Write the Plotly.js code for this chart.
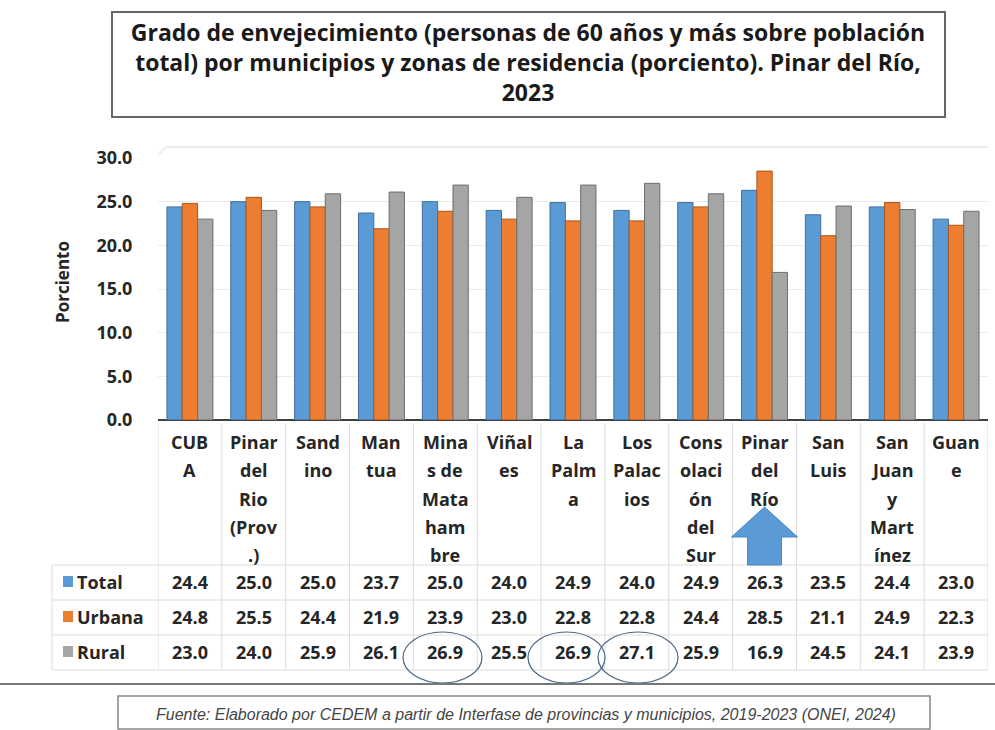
<!DOCTYPE html>
<html>
<head>
<meta charset="utf-8">
<script src="https://cdn.plot.ly/plotly-3.0.1.min.js"></script>
<style>html,body{margin:0;padding:0;background:#fff;}#chart{width:995px;height:730px;}</style>
</head>
<body>
<div id="chart"></div>
<script>
// ---- data ----
const categories = ["CUBA","Pinar del Rio (Prov.)","Sandino","Mantua","Minas de Matahambre","Viñales","La Palma","Los Palacios","Consolación del Sur","Pinar del Río","San Luis","San Juan y Martínez","Guane"];
const tickLabels = ["CUB<br>A","Pinar<br>del<br>Rio<br>(Prov<br>.)","Sand<br>ino","Man<br>tua","Mina<br>s de<br>Mata<br>ham<br>bre","Viñal<br>es","La<br>Palm<br>a","Los<br>Palac<br>ios","Cons<br>olaci<br>ón<br>del<br>Sur","Pinar<br>del<br>Río","San<br>Luis","San<br>Juan<br>y<br>Mart<br>ínez","Guan<br>e"];
const seriesNames = ["Total","Urbana","Rural"];
const total  = [24.4,25.0,25.0,23.7,25.0,24.0,24.9,24.0,24.9,26.3,23.5,24.4,23.0];
const urbana = [24.8,25.5,24.4,21.9,23.9,23.0,22.8,22.8,24.4,28.5,21.1,24.9,22.3];
const rural  = [23.0,24.0,25.9,26.1,26.9,25.5,26.9,27.1,25.9,16.9,24.5,24.1,23.9];
const yTicks = [0,5,10,15,20,25,30];
const titleText = "Grado de envejecimiento (personas de 60 años y más sobre población<br>total) por municipios y zonas de residencia (porciento). Pinar del Río,<br>2023";
const sourceText = "Fuente: Elaborado por CEDEM a partir de Interfase de provincias y municipios, 2019-2023 (ONEI, 2024)";
const circled = [4,6,7]; // rural values highlighted
const arrowAt = 9;

// ---- styling / layout helpers ----
const colors = ["#5B9BD5","#ED7D31","#A5A5A5"];
const edge = ["#3f6f9c","#a9561f","#6e6e6e"];
const series = [total, urbana, rural];
const FONT = "Open Sans, Noto Sans, sans-serif";
const L = 158, R = 988, T = 158, B = 420;
const px = x => (x - L) / (R - L);
const py = y => (B - y) / (B - T);

const traces = series.map((vals, i) => ({
  type: "bar",
  name: seriesNames[i],
  x: categories,
  y: vals,
  marker: {color: colors[i], line: {color: edge[i], width: 1}},
  hoverinfo: "x+y+name",
  showlegend: false
}));

const shapes = [];
const annotations = [];

// title box
shapes.push({type:"rect", xref:"paper", yref:"paper", x0:px(112), x1:px(945), y0:py(117), y1:py(12), line:{color:"#666", width:2}});
// faint chart frame
shapes.push({type:"line", xref:"paper", yref:"paper", x0:px(166), x1:px(988), y0:py(147), y1:py(147), line:{color:"#ececec", width:2}});
shapes.push({type:"line", xref:"paper", yref:"paper", x0:px(158), x1:px(166), y0:py(155), y1:py(147), line:{color:"#ececec", width:2}});

// table vertical separators (category columns)
for (let i = 0; i <= categories.length; i++) {
  shapes.push({type:"line", xref:"x", yref:"paper", x0:i-0.5, x1:i-0.5, y0:py(670), y1:py(423), line:{color:"#dcdcdc", width:1}});
}
// legend column left border
shapes.push({type:"line", xref:"paper", yref:"paper", x0:px(52), x1:px(52), y0:py(670), y1:py(565), line:{color:"#dcdcdc", width:1}});
// horizontal row lines
[565,600,635,670].forEach(y => {
  shapes.push({type:"line", xref:"paper", yref:"paper", x0:px(52), x1:px(988), y0:py(y), y1:py(y), line:{color:"#dcdcdc", width:1}});
});

// category labels (one annotation per wrapped line)
tickLabels.forEach((lab, i) => {
  lab.split("<br>").forEach((ln, j) => {
    annotations.push({xref:"x", yref:"paper", x:i, y:py(442 + 28.3*j), text:ln, showarrow:false,
      xanchor:"center", yanchor:"middle", font:{family:FONT, size:18, color:"#262626", weight:"bold"}});
  });
});

// data rows
const rowY = [582, 617, 652];
series.forEach((vals, s) => {
  shapes.push({type:"rect", xref:"paper", yref:"paper", x0:px(63), x1:px(73), y0:py(rowY[s]+5), y1:py(rowY[s]-6), fillcolor:colors[s], line:{width:0}});
  annotations.push({xref:"paper", yref:"paper", x:px(75), y:py(rowY[s]), text:seriesNames[s], showarrow:false,
    xanchor:"left", yanchor:"middle", font:{family:FONT, size:18, color:"#262626", weight:"bold"}});
  vals.forEach((v, i) => {
    annotations.push({xref:"x", yref:"paper", x:i, y:py(rowY[s]), text:v.toFixed(1), showarrow:false,
      xanchor:"center", yanchor:"middle", font:{family:FONT, size:18, color:"#262626", weight:"bold"}});
  });
});

// highlight ellipses around rural values
const ell = {4:[403,482], 6:[528,605], 7:[598,678]};
circled.forEach(i => {
  const e = ell[i];
  shapes.push({type:"circle", xref:"paper", yref:"paper", x0:px(e[0]), x1:px(e[1]), y0:py(683), y1:py(632), line:{color:"#4a6785", width:1.2}});
});

// blue arrow under Pinar del Río column
const cx = L + (arrowAt + 0.5) * (R - L) / categories.length;
const pts = [[cx-17,565],[cx-17,537],[cx-33,537],[cx,507],[cx+33,537],[cx+17,537],[cx+17,565]];
shapes.push({type:"path", xref:"paper", yref:"paper",
  path: "M " + pts.map(p => px(p[0]) + "," + py(p[1])).join(" L ") + " Z",
  fillcolor:"#5B9BD5", line:{color:"#4a86c0", width:1}});

// separator line and source box
shapes.push({type:"line", xref:"paper", yref:"paper", x0:px(0), x1:px(995), y0:py(684), y1:py(684), line:{color:"#777", width:2}});
shapes.push({type:"rect", xref:"paper", yref:"paper", x0:px(118), x1:px(930), y0:py(729), y1:py(696), line:{color:"#888", width:1.5}});
annotations.push({xref:"paper", yref:"paper", x:px(526), y:py(714), text:"<i>"+sourceText+"</i>", showarrow:false,
  xanchor:"center", yanchor:"middle", font:{family:"Liberation Sans, Arial, sans-serif", size:16, color:"#444"}});

// y axis title
annotations.push({xref:"paper", yref:"paper", x:px(62), y:py(282), text:"Porciento", textangle:-90, showarrow:false,
  xanchor:"center", yanchor:"middle", font:{family:FONT, size:17, color:"#262626", weight:"bold"}});

const layout = {
  width: 995, height: 730,
  margin: {l: L, r: 995 - R, t: T, b: 730 - B, pad: 0},
  paper_bgcolor: "#fff", plot_bgcolor: "#fff",
  title: {text: titleText, x: px(528), xref: "paper", xanchor: "center", y: 1 - 41/730, yref: "container", yanchor: "top",
    font: {family: FONT, size: 23, color: "#1a1a1a", weight: "bold"}},
  barmode: "group", bargap: 0.28, bargroupgap: 0,
  xaxis: {type: "category", range: [-0.5, categories.length - 0.5], showticklabels: false, ticks: "",
    showgrid: false, zeroline: false, showline: false, fixedrange: true},
  yaxis: {range: [0, 30], tickvals: yTicks, ticktext: yTicks.map(v => v.toFixed(1)),
    ticks: "outside", ticklen: 21, tickcolor: "rgba(0,0,0,0)",
    tickfont: {family: FONT, size: 18, color: "#262626", weight: "bold"},
    showgrid: true, gridcolor: "#ececec", gridwidth: 1, zeroline: true, zerolinecolor: "#404040", zerolinewidth: 2,
    showline: false, fixedrange: true},
  shapes: shapes,
  annotations: annotations,
  showlegend: false
};

Plotly.newPlot("chart", traces, layout, {displayModeBar: false, staticPlot: true});
</script>
</body>
</html>
